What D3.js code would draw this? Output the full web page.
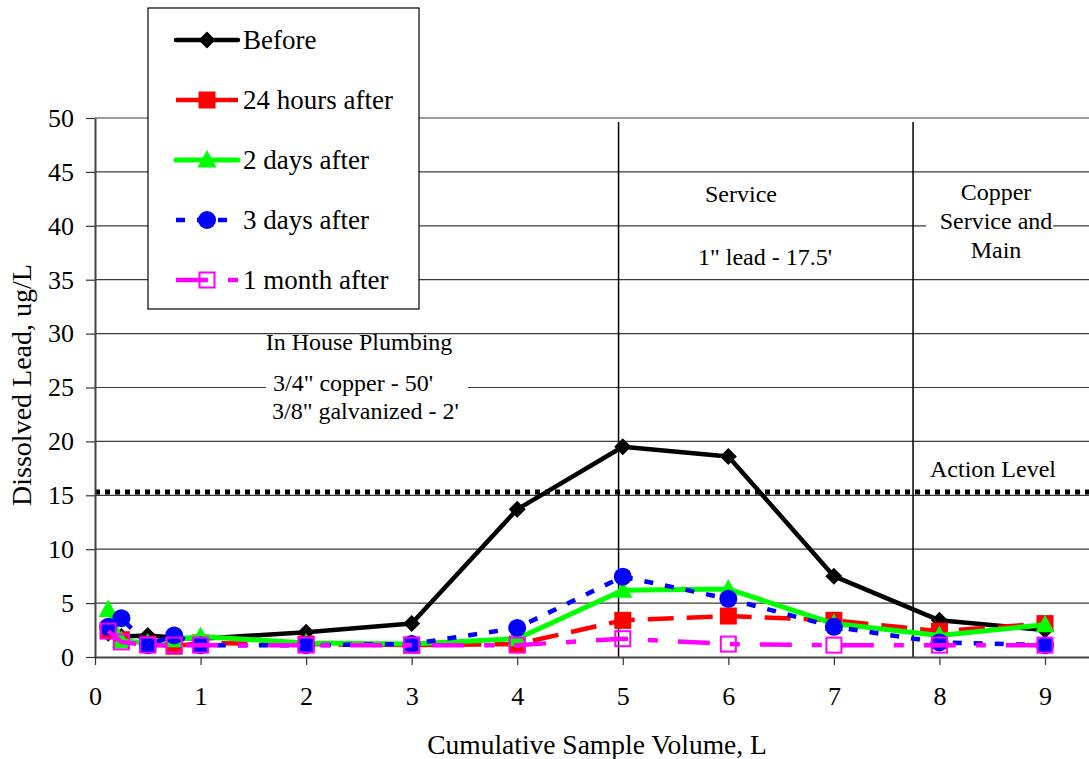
<!DOCTYPE html>
<html>
<head>
<meta charset="utf-8">
<script src="https://cdn.jsdelivr.net/npm/d3@7"></script>
<style>
  html, body { margin: 0; padding: 0; background: #fff; }
  svg { display: block; font-family: "Liberation Serif", "Times New Roman", serif; }
</style>
</head>
<body>
<svg id="chart" width="1089" height="759"></svg>
<script>
// ---- data ----
const volumes = [0.125, 0.25, 0.5, 0.75, 1, 2, 3, 4, 5, 6, 7, 8, 9];
const before   = [2.2, 1.9, 2.0, 1.8, 1.7, 2.3, 3.1, 13.7, 19.5, 18.6, 7.5, 3.4, 2.5];
const after24h = [2.5, 1.6, 1.2, 1.0, 1.3, 1.2, 1.1, 1.2, 3.4, 3.8, 3.4, 2.4, 3.1];
const after2d  = [4.4, 1.5, 1.3, 1.6, 1.9, 1.3, 1.2, 1.7, 6.2, 6.3, 3.1, 2.0, 3.0];
const after3d  = [2.8, 3.6, 1.1, 2.0, 1.1, 1.1, 1.2, 2.7, 7.45, 5.4, 2.8, 1.35, 1.1];
const after1m  = [2.4, 1.4, 1.1, 1.1, 1.1, 1.1, 1.1, 1.1, 1.7, 1.2, 1.1, 1.1, 1.1];
const seriesNames = ["Before", "24 hours after", "2 days after", "3 days after", "1 month after"];
const xTicks = [0, 1, 2, 3, 4, 5, 6, 7, 8, 9];
const yTicks = [0, 5, 10, 15, 20, 25, 30, 35, 40, 45, 50];
const actionLevel = 15.3;
const boundaries = [4.96, 7.75];

const styles = [
  { color: "#000000", dash: null,           width: 4.5, marker: "diamond" },
  { color: "#ff0000", dash: "26,13",        width: 4.5, marker: "square" },
  { color: "#00ff00", dash: null,           width: 5,   marker: "triangle" },
  { color: "#0000ff", dash: "9,12",         width: 4.5, marker: "circle" },
  { color: "#ff00ff", dash: "32,20,10,20",  width: 4.5, marker: "open" }
];
const allSeries = [before, after24h, after2d, after3d, after1m];

// ---- layout ----
const svg = d3.select("#chart");
const x = d3.scaleLinear().domain([0, 9.5]).range([95, 95 + 9.5 * (950 / 9)]);
const y = d3.scaleLinear().domain([0, 50]).range([657, 118]);
const rightEdge = 1089;

// gridlines
svg.append("g").selectAll("line").data(yTicks.filter(d => d > 0)).join("line")
  .attr("x1", x(0)).attr("x2", rightEdge)
  .attr("y1", d => y(d)).attr("y2", d => y(d))
  .attr("stroke", "#3a3a3a").attr("stroke-width", 1.2);

// white boxes behind some annotations
svg.append("rect").attr("x", 266).attr("y", 370).attr("width", 202).attr("height", 55).attr("fill", "#fff");
svg.append("rect").attr("x", 926).attr("y", 180).attr("width", 127).attr("height", 86).attr("fill", "#fff");

// boundary lines
svg.append("g").selectAll("line").data(boundaries).join("line")
  .attr("x1", d => x(d)).attr("x2", d => x(d))
  .attr("y1", 122).attr("y2", y(0))
  .attr("stroke", "#000").attr("stroke-width", 1.5);

// annotations
const ann = svg.append("g").attr("font-size", 24).attr("fill", "#000");
ann.append("text").attr("x", 359).attr("y", 350).attr("text-anchor", "middle").text("In House Plumbing");
ann.append("text").attr("x", 273).attr("y", 391).text("3/4\" copper - 50'");
ann.append("text").attr("x", 272).attr("y", 419).text("3/8\" galvanized - 2'");
ann.append("text").attr("x", 741).attr("y", 202).attr("text-anchor", "middle").text("Service");
ann.append("text").attr("x", 765).attr("y", 265).attr("text-anchor", "middle").text("1\" lead - 17.5'");
ann.append("text").attr("x", 996).attr("y", 200).attr("text-anchor", "middle").text("Copper");
ann.append("text").attr("x", 996).attr("y", 229).attr("text-anchor", "middle").text("Service and");
ann.append("text").attr("x", 996).attr("y", 258).attr("text-anchor", "middle").text("Main");
ann.append("text").attr("x", 993).attr("y", 477).attr("text-anchor", "middle").text("Action Level");

// action level
svg.append("line")
  .attr("x1", x(0)).attr("x2", rightEdge)
  .attr("y1", y(actionLevel)).attr("y2", y(actionLevel))
  .attr("stroke", "#000").attr("stroke-width", 5).attr("stroke-dasharray", "5,5");

// axes
const yAxis = svg.append("g").attr("transform", `translate(${x(0)},0)`)
  .call(d3.axisLeft(y).tickValues(yTicks).tickSize(9).tickPadding(12).tickSizeOuter(0));
const xAxis = svg.append("g").attr("transform", `translate(0,${y(0)})`)
  .call(d3.axisBottom(x).tickValues(xTicks).tickSize(8).tickPadding(22).tickSizeOuter(0));
[xAxis, yAxis].forEach(g => {
  g.select(".domain").attr("stroke", "#444").attr("stroke-width", 2);
  g.selectAll(".tick line").attr("stroke", "#333").attr("stroke-width", 1.2);
  g.selectAll(".tick text").attr("font-size", 26).attr("fill", "#000")
    .attr("font-family", "Liberation Serif, serif");
});

// axis titles
svg.append("text").attr("x", 597).attr("y", 754).attr("text-anchor", "middle")
  .attr("font-size", 27.5).text("Cumulative Sample Volume, L");
svg.append("text").attr("transform", "translate(31,385) rotate(-90)").attr("text-anchor", "middle")
  .attr("font-size", 28).text("Dissolved Lead, ug/L");

// marker drawer
function drawMarker(g, type, color, cx, cy) {
  if (type === "diamond") {
    g.append("path").attr("d", `M${cx},${cy - 8.5}L${cx + 8.5},${cy}L${cx},${cy + 8.5}L${cx - 8.5},${cy}Z`).attr("fill", color);
  } else if (type === "square") {
    g.append("rect").attr("x", cx - 8.5).attr("y", cy - 8.5).attr("width", 17).attr("height", 17).attr("fill", color);
  } else if (type === "triangle") {
    g.append("path").attr("d", `M${cx},${cy - 10}L${cx + 9.5},${cy + 7.5}L${cx - 9.5},${cy + 7.5}Z`).attr("fill", color);
  } else if (type === "circle") {
    g.append("circle").attr("cx", cx).attr("cy", cy).attr("r", 9).attr("fill", color);
  } else if (type === "open") {
    g.append("rect").attr("x", cx - 7.5).attr("y", cy - 7.5).attr("width", 15).attr("height", 15)
      .attr("fill", "none").attr("stroke", color).attr("stroke-width", 2);
  }
}

// series
const line = d3.line().x(d => x(d[0])).y(d => y(d[1]));
allSeries.forEach((vals, i) => {
  const s = styles[i];
  const g = svg.append("g");
  const pts = volumes.map((v, j) => [v, vals[j]]);
  g.append("path").attr("d", line(pts)).attr("fill", "none")
    .attr("stroke", s.color).attr("stroke-width", s.width)
    .attr("stroke-dasharray", s.dash).attr("stroke-linejoin", "round");
  pts.forEach(p => drawMarker(g, s.marker, s.color, x(p[0]), y(p[1])));
});

// legend
const lg = svg.append("g");
lg.append("rect").attr("x", 148).attr("y", 8).attr("width", 271).attr("height", 301)
  .attr("fill", "#fff").attr("stroke", "#000").attr("stroke-width", 1.2);
seriesNames.forEach((name, i) => {
  const s = styles[i];
  const ly = 40 + i * 60;
  lg.append("line").attr("x1", 176).attr("x2", 238).attr("y1", ly).attr("y2", ly)
    .attr("stroke", s.color).attr("stroke-width", s.width).attr("stroke-dasharray", s.dash)
    .attr("stroke-linecap", s.dash ? "butt" : "round");
  drawMarker(lg, s.marker, s.color, 207, ly);
  lg.append("text").attr("x", 243).attr("y", ly + 9).attr("font-size", 27).text(name);
});
</script>
</body>
</html>
